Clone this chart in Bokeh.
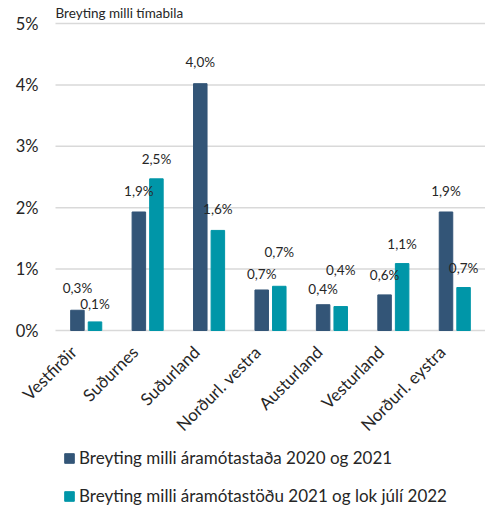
from bokeh.plotting import figure
from bokeh.models import ColumnDataSource, Range1d, Label, Legend, LegendItem
from bokeh.transform import dodge
from bokeh.core.properties import value
from bokeh.embed import file_html
from bokeh.resources import INLINE
import math

categories = ["Vestfirðir", "Suðurnes", "Suðurland", "Norðurl. vestra",
              "Austurland", "Vesturland", "Norðurl. eystra"]
series_names = ["Breyting milli áramótastaða 2020 og 2021",
                "Breyting milli áramótastöðu 2021 og lok júlí 2022"]
change_2020_2021 = [0.33, 1.93, 4.02, 0.66, 0.42, 0.58, 1.93]
change_2021_jul2022 = [0.14, 2.47, 1.63, 0.72, 0.39, 1.09, 0.70]
y_ticks = [0, 1, 2, 3, 4, 5]
chart_title = "Breyting milli tímabila"

# label layout (pixel lift of each value label above its bar top)
blue_lift = [22, 21, 22, 16, 16, 20, 21]
teal_lift = [18, 20, 21, 34, 37, 20, 20]

FONT = "Lato"
TXT = "#262626"
BLUE = "#335577"
TEAL = "#0096A8"


def fmt(v):
    return f"{v:.1f}".replace(".", ",") + "%"


n = len(categories)
idx = list(range(n))
src = ColumnDataSource(dict(x=idx, a=change_2020_2021, b=change_2021_jul2022))
cat_src = ColumnDataSource(dict(x=idx, base=[0] * n, cat=categories))
tick_src = ColumnDataSource(dict(y=y_ticks, lab=[f"{t}%" for t in y_ticks]))

W, H = 485, 507
left_px, zero_px, px_per_unit = 55, 330, 61.4
x_lo, x_hi = -0.5, n - 0.5
x_start = x_lo - left_px * (x_hi - x_lo) / (W - left_px)
y_top = zero_px / px_per_unit
y_bot = -(H - zero_px) / px_per_unit

p = figure(x_range=Range1d(x_start, x_hi), y_range=Range1d(y_bot, y_top),
           width=W, height=H, output_backend="svg", toolbar_location=None,
           x_axis_location=None, y_axis_location=None,
           min_border_left=0, min_border_right=0, min_border_top=0,
           min_border_bottom=0)
p.outline_line_color = None
p.background_fill_color = "white"
p.border_fill_color = "white"
p.xgrid.visible = False
p.ygrid.visible = False

# gridlines over the plot area
p.segment(x0=x_lo, x1=x_hi, y0="y", y1="y", source=tick_src,
          line_color="#D9D9D9", line_width=1.5)
# y tick labels
p.text(x=x_lo, y="y", text="lab", source=tick_src, x_offset=-17,
       text_align="right", text_baseline="middle",
       text_font=value(FONT), text_font_size="16.5px", text_color=TXT)

off = 0.143
bw = 0.22
ra = p.vbar(x=dodge("x", -off), top="a", bottom=0, width=bw,
            source=src, fill_color=BLUE, line_color=BLUE)
rb = p.vbar(x=dodge("x", off), top="b", bottom=0, width=bw,
            source=src, fill_color=TEAL, line_color=TEAL)

# value labels
for i in idx:
    p.add_layout(Label(x=i - off, y=change_2020_2021[i], text=fmt(change_2020_2021[i]),
                       y_offset=blue_lift[i], text_align="center", text_baseline="middle",
                       text_font=FONT, text_font_size="13.5px", text_color=TXT))
    p.add_layout(Label(x=i + off, y=change_2021_jul2022[i], text=fmt(change_2021_jul2022[i]),
                       y_offset=teal_lift[i], text_align="center", text_baseline="middle",
                       text_font=FONT, text_font_size="13.5px", text_color=TXT))

p.add_layout(Label(x=x_lo, y=5, y_offset=3, text=chart_title, text_align="left",
                   text_baseline="bottom", text_font=FONT, text_font_size="13.5px",
                   text_color=TXT))

# category labels, rotated 45 degrees; offsets are applied in the rotated frame
ang = math.pi / 4
dx, dy = 4, 22  # wanted screen shift (right, down) of the label anchor
ox = dx * math.cos(ang) - dy * math.sin(ang)
oy = dx * math.sin(ang) + dy * math.cos(ang)
p.text(x="x", y="base", text="cat", source=cat_src, angle=ang,
       x_offset=ox, y_offset=oy, text_align="right", text_baseline="middle",
       text_font=value(FONT), text_font_size="17px", text_color=TXT)

legend = Legend(items=[LegendItem(label=series_names[0], renderers=[ra]),
                       LegendItem(label=series_names[1], renderers=[rb])],
                location=(63, 1), orientation="vertical",
                padding=0, margin=0, spacing=17, label_height=20,
                glyph_height=12, glyph_width=12, label_standoff=4,
                label_text_font=FONT, label_text_font_size="17px",
                label_text_color=TXT, border_line_color=None,
                background_fill_alpha=0)
p.add_layout(legend, "center")

open("out.html", "w").write(file_html(p, INLINE))
